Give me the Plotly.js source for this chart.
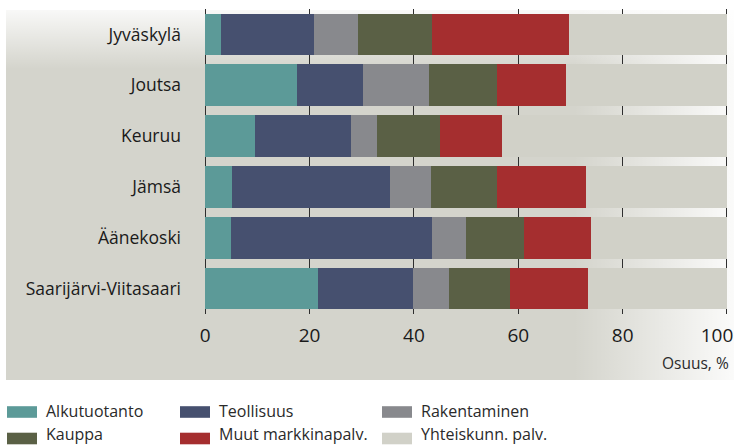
<!DOCTYPE html>
<html>
<head>
<meta charset="utf-8">
<script src="https://cdn.plot.ly/plotly-3.0.1.min.js"></script>
<style>
  html, body { margin: 0; padding: 0; background: #ffffff; }
  #chart { width: 734px; height: 446px; }
</style>
</head>
<body>
<div id="chart"></div>
<script>
// ---- Data ----
const cities = ["Jyväskylä", "Joutsa", "Keuruu", "Jämsä", "Äänekoski", "Saarijärvi-Viitasaari"];
const alkutuotanto   = [3.0, 17.5, 9.5, 5.1, 4.9, 21.7];
const teollisuus     = [17.8, 12.7, 18.4, 30.3, 38.5, 18.2];
const rakentaminen   = [8.4, 12.6, 5.0, 7.8, 6.5, 6.9];
const kauppa         = [14.2, 13.2, 12.0, 12.8, 11.1, 11.7];
const muutMarkkina   = [26.3, 13.1, 11.9, 16.9, 13.0, 14.8];
const yhteiskunn     = [30.3, 30.9, 43.2, 27.1, 26.0, 26.7];
const seriesNames  = ["Alkutuotanto", "Teollisuus", "Rakentaminen", "Kauppa", "Muut markkinapalv.", "Yhteiskunn. palv."];
const seriesValues = [alkutuotanto, teollisuus, rakentaminen, kauppa, muutMarkkina, yhteiskunn];
const seriesColors = ["#5c9a98", "#46506f", "#88898d", "#5a6045", "#a52e2f", "#d1d1c8"];
const xTickVals  = [0, 20, 40, 60, 80, 100];
const xTickText  = ["0", "20", "40", "60", "80", ""];
const xLastTick  = [100];
const xLastText  = ["100"];
const xAxisLabel = "Osuus, %";

// ---- Geometry helpers (pixel -> paper) ----
const W = 734, H = 446;
const M = { l: 196, r: 4, t: 9, b: 132 };
const PW = W - M.l - M.r, PH = H - M.t - M.b;
const px = x => (x - M.l) / PW;
const py = y => (H - M.b - y) / PH;
const xRange = [-1.78, 100.58];

const traces = seriesNames.map((name, i) => ({
  type: "bar",
  orientation: "h",
  name: name,
  y: cities,
  x: seriesValues[i],
  marker: { color: seriesColors[i], line: { width: 0 } },
  hoverinfo: "name+x"
}));
// empty helper trace so the overlay axis (for the last tick label) is drawn
traces.push({ type: "scatter", x: [], y: [], xaxis: "x2", yaxis: "y", showlegend: false, hoverinfo: "skip" });

// Background panel (gray with soft fades) as an SVG image
const svg = "<svg xmlns='http://www.w3.org/2000/svg' width='728' height='370' viewBox='0 0 728 370' preserveAspectRatio='none'>" +
  "<defs>" +
  "<linearGradient id='v' x1='0' y1='0' x2='0' y2='1'><stop offset='0' stop-color='#ffffff' stop-opacity='0.85'/><stop offset='0.16' stop-color='#ffffff' stop-opacity='0'/></linearGradient>" +
  "<linearGradient id='h' x1='0' y1='0' x2='1' y2='0'><stop offset='0.78' stop-color='#ffffff' stop-opacity='0'/><stop offset='1' stop-color='#ffffff' stop-opacity='0.9'/></linearGradient>" +
  "</defs>" +
  "<rect width='728' height='370' fill='#d4d4cc'/>" +
  "<rect width='728' height='370' fill='url(#v)'/>" +
  "<rect width='728' height='370' fill='url(#h)'/>" +
  "</svg>";

const images = [{
  source: "data:image/svg+xml;charset=utf-8," + encodeURIComponent(svg),
  xref: "paper", yref: "paper",
  x: px(6), y: py(10),
  sizex: 728 / PW, sizey: 370 / PH,
  xanchor: "left", yanchor: "top",
  sizing: "stretch", layer: "below"
}];

// Custom legend (3 columns x 2 rows)
const legCols = [7, 180, 382];
const swatchRows = [412, 438.5];
const textRows = [411, 434];
const shapes = [];
const annotations = [];
seriesNames.forEach((name, i) => {
  const c = i % 3, r = Math.floor(i / 3);
  const x0 = legCols[c];
  shapes.push({
    type: "rect", xref: "paper", yref: "paper",
    x0: px(x0), x1: px(x0 + 30), y0: py(swatchRows[r] + 5.8), y1: py(swatchRows[r] - 5.8),
    fillcolor: seriesColors[i], line: { width: 0 }, layer: "above"
  });
  annotations.push({
    xref: "paper", yref: "paper",
    x: px(x0 + 38), y: py(textRows[r]), xanchor: "left", yanchor: "middle",
    text: name, showarrow: false, borderpad: 0,
    font: { family: "Open Sans", size: 16, color: "#2a2a2a" }
  });
});
annotations.push({
  xref: "paper", yref: "paper",
  x: px(731), y: py(363), xanchor: "right", yanchor: "middle",
  text: xAxisLabel, showarrow: false,
  font: { family: "Open Sans", size: 15.5, color: "#2a2a2a" }
});

const tickFont = { family: "Open Sans", size: 19, color: "#1a1a1a" };

const layout = {
  width: W, height: H,
  margin: M,
  paper_bgcolor: "rgba(0,0,0,0)",
  plot_bgcolor: "#ffffff",
  barmode: "stack",
  bargap: 0.18,
  showlegend: false,
  font: { family: "Open Sans", color: "#1a1a1a" },
  xaxis: {
    range: xRange,
    tickmode: "array", tickvals: xTickVals, ticktext: xTickText,
    showgrid: true, gridcolor: "#2e2e2e", gridwidth: 1,
    zeroline: false, showline: false, ticks: "",
    ticklabelstandoff: 8,
    tickfont: tickFont,
    fixedrange: true
  },
  xaxis2: {
    overlaying: "x", anchor: "y", side: "bottom",
    range: xRange,
    tickmode: "array", tickvals: xLastTick, ticktext: xLastText,
    showgrid: false, zeroline: false, showline: false, ticks: "",
    ticklabelstandoff: 8,
    ticklabelshift: -10,
    ticklabeloverflow: "allow",
    tickfont: tickFont,
    fixedrange: true
  },
  yaxis: {
    type: "category",
    categoryorder: "array", categoryarray: cities,
    autorange: "reversed",
    showgrid: false, zeroline: false, showline: false, ticks: "",
    ticklabelstandoff: 14,
    tickfont: { family: "Open Sans", size: 17.5, color: "#1a1a1a" },
    fixedrange: true
  },
  images: images,
  shapes: shapes,
  annotations: annotations
};

Plotly.newPlot("chart", traces, layout, { displayModeBar: false, staticPlot: true });
</script>
</body>
</html>
